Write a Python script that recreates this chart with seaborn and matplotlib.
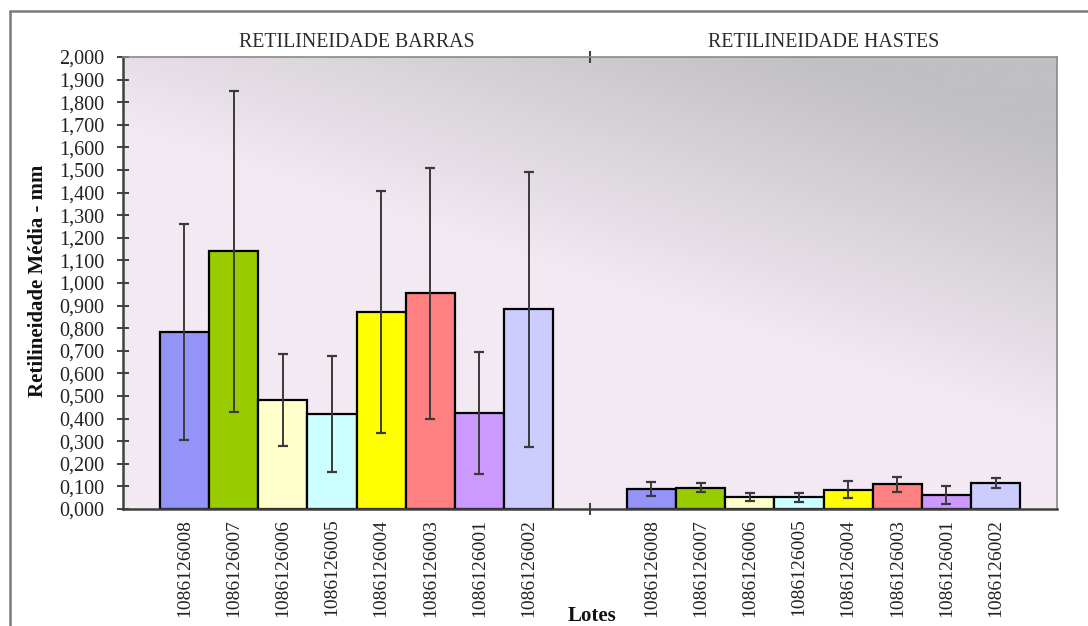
import numpy as np
import pandas as pd
import matplotlib
matplotlib.use("Agg")
import matplotlib.pyplot as plt
from matplotlib.ticker import FixedLocator, FuncFormatter
from matplotlib.transforms import blended_transform_factory
from matplotlib.lines import Line2D
import seaborn as sns

# --- data -------------------------------------------------------------
grupos = ["RETILINEIDADE BARRAS", "RETILINEIDADE HASTES"]
lotes = ["1086126008", "1086126007", "1086126006", "1086126005",
         "1086126004", "1086126003", "1086126001", "1086126002"]
media_barras = [0.784, 1.140, 0.483, 0.420, 0.870, 0.955, 0.425, 0.883]
desvio_barras = [0.477, 0.710, 0.205, 0.256, 0.535, 0.556, 0.270, 0.607]
media_hastes = [0.088, 0.094, 0.054, 0.053, 0.086, 0.109, 0.061, 0.115]
desvio_hastes = [0.032, 0.019, 0.017, 0.020, 0.039, 0.032, 0.040, 0.024]
cores = ["#9393F8", "#99CC00", "#FFFFCC", "#CCFFFF",
         "#FFFF00", "#FF8080", "#CC99FF", "#CCCCFF"]
y_ticks = [round(0.1 * i, 1) for i in range(21)]

df = pd.DataFrame({
    "grupo": [grupos[0]] * len(lotes) + [grupos[1]] * len(lotes),
    "lote": lotes + lotes,
    "media": media_barras + media_hastes,
    "desvio": desvio_barras + desvio_hastes,
})

# --- figure -----------------------------------------------------------
sns.set_theme(style="white")
plt.rcParams["font.family"] = ["Liberation Serif", "DejaVu Serif"]

W, H = 1088, 626
fig = plt.figure(figsize=(W / 100, H / 100), dpi=100)
fig.patch.set_facecolor("white")
L, R, T, B = 123, 1057, 57, 509
ax = fig.add_axes([L / W, 1 - B / H, (R - L) / W, (B - T) / H])

# plot-area gradient: light pinkish-white lower left, grey upper right
nx, ny = 400, 200
gx, gy = np.meshgrid(np.linspace(0, 1, nx), np.linspace(0, 1, ny))
g = np.clip((0.8 * gx + 1.2 * gy - 1.0) / 0.8, 0, 1)[..., None]
c0 = np.array([243, 233, 243]) / 255
c1 = np.array([192, 191, 194]) / 255
img = c0 * (1 - g) + c1 * g
ax.imshow(img, extent=(-0.5, 1.5, 0, 2), origin="lower", aspect="auto",
          zorder=0, interpolation="bilinear")

sns.barplot(data=df, x="grupo", y="media", hue="lote", order=grupos,
            hue_order=lotes, palette=cores, width=8 / 9.5, gap=0,
            errorbar=None, edgecolor="black", linewidth=1.6,
            saturation=1, legend=False, ax=ax, zorder=2)

# error bars (mean +/- standard deviation) and per-bar tick positions
desvios = {(r.grupo, r.lote): r.desvio for r in df.itertuples()}
centros, rotulos = [], []
for lote, cont in zip(lotes, ax.containers):
    for bar in cont:
        xc = bar.get_x() + bar.get_width() / 2
        grupo = grupos[int(round(xc))]
        ax.errorbar(xc, bar.get_height(), yerr=desvios[(grupo, lote)],
                    fmt="none", ecolor="#3a3a3a", elinewidth=1.4,
                    capsize=3.8, capthick=1.6, zorder=3)
        centros.append(xc)
        rotulos.append(lote)

ordem = np.argsort(centros)
ax.set_xticks([centros[i] for i in ordem],
              labels=[rotulos[i] for i in ordem], rotation=90)
ax.xaxis.set_minor_locator(FixedLocator([0.5]))
ax.tick_params(axis="x", which="major", length=0, pad=7, labelsize=14,
               colors="#222222")
ax.tick_params(axis="x", which="minor", length=8, width=1.5,
               direction="inout", top=True, bottom=True, color="#444444")

ax.set_xlim(-0.5, 1.5)
ax.set_ylim(0, 2)
ax.yaxis.set_major_locator(FixedLocator(y_ticks))
ax.yaxis.set_major_formatter(
    FuncFormatter(lambda v, p: f"{v:.3f}".replace(".", ",")))
ax.tick_params(axis="y", which="major", length=9, width=1.2,
               direction="inout", left=True, labelsize=14.5, pad=9,
               colors="#222222")
ax.set_xlabel("")
ax.set_ylabel("Retilineidade Média - mm", fontsize=15, fontweight="bold",
              color="#111111")
ax.yaxis.set_label_coords(-0.080, 0.505)

for side, spine in ax.spines.items():
    spine.set_visible(True)
    spine.set_zorder(4)
    if side in ("left", "bottom"):
        spine.set_color("#404040")
        spine.set_linewidth(1.8)
    else:
        spine.set_color("#8a8a8a")
        spine.set_linewidth(1.2)

# group titles above each half
trans = blended_transform_factory(ax.transData, ax.transAxes)
for i, nome in enumerate(grupos):
    ax.text(i, 1 + 14 / (B - T), nome, transform=trans, ha="center",
            va="center", fontsize=14.3, color="#2a2a2a")

fig.text(592 / W, 1 - 616 / H, "Lotes", ha="center", va="center",
         fontsize=15, fontweight="bold", color="#111111")

# chart-area frame
fig.add_artist(Line2D([10 / W, 10 / W], [0, 1 - 11 / H],
                      transform=fig.transFigure, color="#7a7a7a", lw=1.8))
fig.add_artist(Line2D([10 / W, 1], [1 - 11 / H, 1 - 11 / H],
                      transform=fig.transFigure, color="#7a7a7a", lw=1.8))

fig.savefig("out.png", dpi=100)
